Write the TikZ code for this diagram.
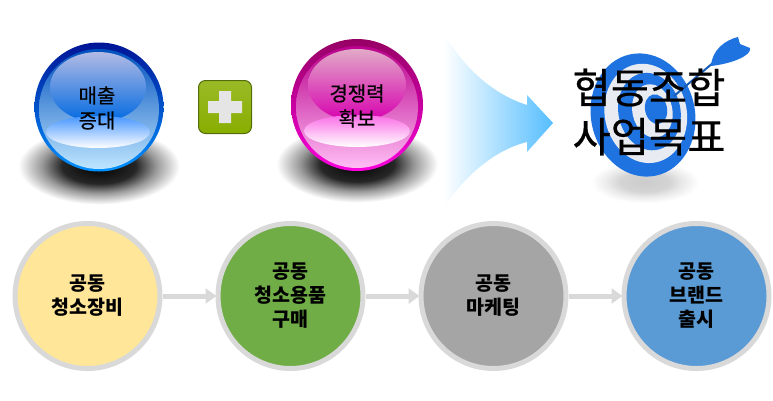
\documentclass[tikz,border=0pt]{standalone}
\usepackage{fontspec}
\setmainfont{Noto Sans CJK KR}
\newfontfamily\semibold[FakeBold=0.5]{Noto Sans CJK KR}
\usetikzlibrary{shapes.geometric,arrows.meta,positioning}
\definecolor{rimgray}{RGB}{217,217,217}
\definecolor{plusgreen}{RGB}{136,174,0}
\definecolor{plusedge}{RGB}{84,108,10}
\definecolor{targetblue}{RGB}{30,115,225}
\definecolor{targetlight}{RGB}{232,235,242}
\definecolor{arrowblue}{RGB}{85,190,255}
\definecolor{goalyellow}{RGB}{255,230,153}
\definecolor{goalgreen}{RGB}{112,173,71}
\definecolor{goalgray}{RGB}{165,165,165}
\definecolor{goalblue}{RGB}{91,155,213}
\definecolor{bluetop}{RGB}{0,20,150}
\definecolor{bluemid}{RGB}{0,80,190}
\definecolor{bluebody}{RGB}{0,105,225}
\definecolor{bluelow}{RGB}{0,145,255}
\definecolor{bluepale}{RGB}{190,230,255}
\definecolor{bluesheen}{RGB}{178,186,228}
\definecolor{bluecap}{RGB}{70,150,255}
\definecolor{pinktop}{RGB}{150,0,100}
\definecolor{pinkmid}{RGB}{185,0,140}
\definecolor{pinkbody}{RGB}{215,0,175}
\definecolor{pinklow}{RGB}{250,0,220}
\definecolor{pinkpale}{RGB}{255,190,245}
\definecolor{pinksheen}{RGB}{226,170,200}
\definecolor{pinkcap}{RGB}{250,110,230}
\pgfdeclareradialshading{softshadow}{\pgfpointorigin}{color(0bp)=(black); color(11bp)=(black!85); color(17bp)=(black!40); color(24bp)=(white); color(100bp)=(white)}
\tikzset{goal/.style={circle, draw=rimgray, line width=5pt, minimum size=145pt, align=center, inner sep=0pt, font=\bfseries\fontsize{19.5}{24}\selectfont}}
\tikzset{balltext/.style={align=center, inner sep=0pt, font=\semibold\fontsize{20}{25}\selectfont}}
\tikzset{targettext/.style={align=center, inner sep=0pt, font=\semibold\fontsize{41.5}{49}\selectfont}}
\tikzset{line/.style={draw=rimgray, line width=5pt, -{Triangle[length=11pt,width=15pt]}, shorten >=-1pt}}
\tikzset{plusbox/.style={rectangle, draw=plusedge, line width=1pt, top color=plusgreen!85!white, bottom color=plusgreen, rounded corners=7pt, minimum size=53pt}}
\tikzset{ring/.style={fill=#1, rotate around={12:(643,115)}}}
\begin{document}
\begin{tikzpicture}[x=1pt,y=-1pt,node distance=203pt]
        \useasboundingbox (0,0) rectangle (773,400);

        % shadows
        \shade[shading=softshadow] (99,166) ellipse (84 and 40);
        \shade[shading=softshadow] (357,164) ellipse (84 and 40);

        % blue ball
        \shade[top color=bluetop, bottom color=bluelow] (99,107) circle (64.5);
        \shade[top color=bluemid, middle color=bluebody, bottom color=bluepale] (99,109) circle (60);
        \shade[top color=bluesheen, bottom color=bluebody] (98,87) ellipse (48 and 35);
        \shade[top color=bluecap, bottom color=white] (98,132) ellipse (52 and 16);

        % pink ball
        \shade[top color=pinktop, bottom color=pinklow] (357,105) circle (66);
        \shade[top color=pinkmid, middle color=pinkbody, bottom color=pinkpale] (357,107) circle (61);
        \shade[top color=pinksheen, bottom color=pinkbody] (357,85) ellipse (49 and 36);
        \shade[top color=pinkcap, bottom color=white] (357,131) ellipse (53 and 16);

        \node[balltext] (sales) at (97,108) {매출\\증대};
        \node[balltext] (power) at (357,106) {경쟁력\\확보};

        % plus sign
        \node[plusbox] (plus) at (225,107) {};
        \fill[white!90!black] (219,91) -- (231,91) -- (231,101) -- (242,101) -- (242,113) -- (231,113) -- (231,123) -- (219,123) -- (219,113) -- (208,113) -- (208,101) -- (219,101) -- cycle;

        % big arrow
        \shade[left color=white, right color=arrowblue] (444,33) .. controls (465,70) and (495,95) .. (527,105) -- (527,95) -- (553,123) -- (527,152) -- (527,142) .. controls (495,150) and (465,175) .. (444,208) -- cycle;

        % target
        \shade[shading=softshadow, opacity=0.2] (645,182) ellipse (56 and 22);
        \fill[ring=targetblue] (643,115) ellipse (52 and 62);
        \fill[ring=targetlight] (646,114) ellipse (41 and 50);
        \fill[ring=targetblue] (650,113) ellipse (31 and 39);
        \fill[ring=targetlight] (653,113) ellipse (20 and 27);
        \fill[ring=targetblue] (657,112) ellipse (11 and 15);
        \draw[targetblue!80!black, line width=2pt] (674,96) -- (714,62);
        \fill[targetblue] (711,66) .. controls (712,50) and (725,40) .. (738,37) -- (740,44) -- (750,48) .. controls (752,56) and (730,64) .. (711,66) -- cycle;
        \node[targettext] (title) at (649,112) {협동조합\\사업목표};

        % bottom row
        \node[goal, fill=goalyellow]   (equip) at (87.5,296) {공동\\청소장비};
        \node[goal, fill=goalgreen, right of=equip] (supply) {공동\\청소용품\\구매};
        \node[goal, fill=goalgray, right of=supply] (market) {공동\\마케팅};
        \node[goal, fill=goalblue, right of=market] (brand) {공동\\브랜드\\출시};

        \path[line] (equip) -- (supply);
        \path[line] (supply) -- (market);
        \path[line] (market) -- (brand);

\end{tikzpicture}
\end{document}
